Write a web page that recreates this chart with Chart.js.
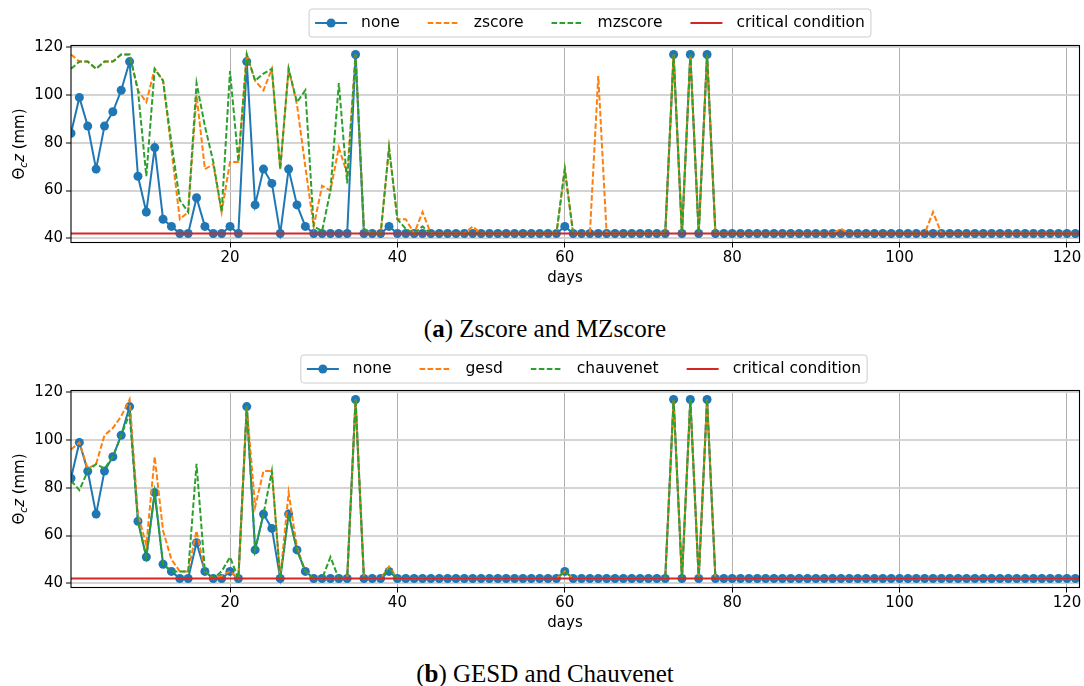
<!DOCTYPE html>
<html><head><meta charset="utf-8">
<script src="https://cdn.jsdelivr.net/npm/chart.js@4"></script>
<style>
html,body{margin:0;padding:0;background:#fff;width:1084px;height:686px;overflow:hidden}
.wrap{position:absolute;left:0;width:1084px;height:295px}
canvas{display:block}
.cap{position:absolute;left:0;width:1090px;text-align:center;font-family:'Liberation Serif','DejaVu Serif',serif;font-size:25px;line-height:25px;color:#000;white-space:nowrap}
</style></head><body>
<div class="wrap" style="top:0px"><canvas id="c1" width="1084" height="295"></canvas></div>
<div class="cap" style="top:316px">(<b>a</b>) Zscore and MZscore</div>
<div class="wrap" style="top:345px"><canvas id="c2" width="1084" height="295"></canvas></div>
<div class="cap" style="top:661px">(<b>b</b>) GESD and Chauvenet</div>
<script>
// ---- data ----
const days = Array.from({length: 121}, (_, i) => i + 1);
const xTicks = [20, 40, 60, 80, 100, 120];
const yTicks = [40, 60, 80, 100, 120];
const critical = 42;
const xMin = 1, xMax = 121.5;
const yMin = 38.25, yMax = 120.75;

const namesA = ['none', 'zscore', 'mzscore', 'critical condition'];
const namesB = ['none', 'gesd', 'chauvenet', 'critical condition'];

const none = [
  84,99,87,69,87,93,102,114,66,51,78,48,45,42,42,57,45,42,42,45,
  42,114,54,69,63,42,69,54,45,42,42,42,42,42,117,42,42,42,45,42,
  42,42,42,42,42,42,42,42,42,42,42,42,42,42,42,42,42,42,42,45,
  42,42,42,42,42,42,42,42,42,42,42,42,117,42,117,42,117,42,42,42,
  42,42,42,42,42,42,42,42,42,42,42,42,42,42,42,42,42,42,42,42,
  42,42,42,42,42,42,42,42,42,42,42,42,42,42,42,42,42,42,42,42,42
];
const zscore = [
  117,114,114,111,114,114,117,117,102,97,111,106,77,48,51,100,69,71,51,72,
  72,117,106,102,111,69,111,96,70,45,62,60,78,67,117,44,42,42,78,48,
  48,42,51,42,42,42,42,42,45,42,42,42,42,42,42,42,42,42,42,69,
  42,42,42,108,42,42,42,42,42,42,42,42,117,42,117,42,117,42,42,42,
  42,42,42,42,42,42,42,42,42,42,42,42,44,42,42,42,42,42,42,42,
  42,42,42,51,42,42,42,42,42,42,42,42,42,42,42,42,42,42,42,42,42
];
const mzscore = [
  111,114,114,111,114,114,117,117,102,66,111,106,80,56,51,105,87,72,51,110,
  72,117,106,109,111,69,111,97,102,45,43,60,105,63,117,44,42,42,78,48,
  44,42,45,42,42,42,42,42,42,42,42,42,42,42,42,42,42,42,42,69,
  42,42,42,42,42,42,42,42,42,42,42,42,117,42,117,42,117,42,42,42,
  42,42,42,42,42,42,42,42,42,42,42,42,42,42,42,42,42,42,42,42,
  42,42,42,42,42,42,42,42,42,42,42,42,42,42,42,42,42,42,42,42,42
];
const gesd = [
  96,99,88,90,102,105,110,117,69,56,93,62,50,45,45,62,45,42,43,45,
  42,114,72,87,87,42,78,55,45,42,42,42,42,42,117,42,42,42,47,42,
  42,42,42,42,42,42,42,42,42,42,42,42,42,42,42,42,42,42,42,45,
  42,42,42,42,42,42,42,42,42,42,42,42,117,42,117,42,117,42,42,42,
  42,42,42,42,42,42,42,42,42,42,42,42,42,42,42,42,42,42,42,42,
  42,42,42,42,42,42,42,42,42,42,42,42,42,42,42,42,42,42,42,42,42
];
const chauvenet = [
  83,79,87,90,88,93,102,111,66,51,78,48,45,45,45,90,45,42,45,51,
  42,114,54,69,87,42,69,54,45,42,42,51,42,42,117,42,42,42,46,42,
  42,42,42,42,42,42,42,42,42,42,42,42,42,42,42,42,42,42,42,45,
  42,42,42,42,42,42,42,42,42,42,42,42,117,42,117,42,117,42,42,42,
  42,42,42,42,42,42,42,42,42,42,42,42,42,42,42,42,42,42,42,42,
  42,42,42,42,42,42,42,42,42,42,42,42,42,42,42,42,42,42,42,42,42
];

// ---- styles ----
const FONT = "'DejaVu Sans', 'Liberation Sans', sans-serif";
const C_BLUE = '#1f77b4', C_ORANGE = '#ff7f0e', C_GREEN = '#2ca02c', C_RED = '#d62728';
const DASH = [5.6, 2.4];

function pts(arr) { return arr.map((v, i) => ({x: days[i], y: v})); }

function decorPlugin(legendNames, legendCx, legendCy) {
  return {
    id: 'decor',
    afterDraw(chart) {
      const ctx = chart.ctx;
      const a = chart.chartArea;
      // frame
      ctx.save();
      ctx.strokeStyle = '#000';
      ctx.lineWidth = 1.1;
      ctx.strokeRect(a.left, a.top, a.right - a.left, a.bottom - a.top);
      ctx.restore();

      // x title
      ctx.save();
      ctx.font = '15px ' + FONT;
      ctx.fillStyle = '#000';
      ctx.textAlign = 'center';
      ctx.textBaseline = 'middle';
      ctx.fillText('days', 565, a.bottom + 36);
      ctx.restore();

      // y title with subscript
      ctx.save();
      ctx.translate(18, (a.top + a.bottom) / 2);
      ctx.rotate(-Math.PI / 2);
      ctx.fillStyle = '#000';
      ctx.textBaseline = 'alphabetic';
      const parts = [
        {t: 'Θ', f: '15px ' + FONT, dy: 0},
        {t: 'c', f: 'italic 10.5px ' + FONT, dy: 3},
        {t: 'z', f: 'italic 15px ' + FONT, dy: 0},
        {t: ' (mm)', f: '15px ' + FONT, dy: 0}
      ];
      let tw = 0;
      parts.forEach(p => { ctx.font = p.f; p.w = ctx.measureText(p.t).width; tw += p.w; });
      let x = -tw / 2;
      parts.forEach(p => { ctx.font = p.f; ctx.fillText(p.t, x, 5.5 + p.dy); x += p.w; });
      ctx.restore();

      // legend
      ctx.save();
      ctx.font = '15.5px ' + FONT;
      const hl = 32, hp = 14, cs = 28, bp = 6;
      const ws = legendNames.map(n => ctx.measureText(n).width);
      let total = bp * 2 + cs * (legendNames.length - 1);
      ws.forEach(w => total += hl + hp + w);
      const x0 = legendCx - total / 2, h = 28;
      ctx.beginPath();
      ctx.roundRect(x0, legendCy - h / 2, total, h, 3);
      ctx.fillStyle = 'rgba(255,255,255,0.8)';
      ctx.fill();
      ctx.strokeStyle = '#cccccc';
      ctx.lineWidth = 1;
      ctx.stroke();
      const ds = chart.data.datasets;
      let cx = x0 + bp;
      [0, 1, 2, 3].forEach((di, k) => {
        const d = ds[di];
        ctx.save();
        ctx.strokeStyle = d.borderColor;
        ctx.lineWidth = 2;
        ctx.setLineDash(d.borderDash || []);
        ctx.beginPath();
        ctx.moveTo(cx, legendCy);
        ctx.lineTo(cx + hl, legendCy);
        ctx.stroke();
        ctx.setLineDash([]);
        if (d.pointRadius > 0) {
          ctx.beginPath();
          ctx.arc(cx + hl / 2, legendCy, d.pointRadius, 0, Math.PI * 2);
          ctx.fillStyle = d.borderColor;
          ctx.fill();
        }
        ctx.restore();
        ctx.fillStyle = '#000';
        ctx.textBaseline = 'middle';
        ctx.textAlign = 'left';
        ctx.fillText(legendNames[k], cx + hl + hp, legendCy);
        cx += hl + hp + ws[k] + cs;
      });
      ctx.restore();
    }
  };
}

function makeChart(id, names, s1, s2, legendCx, legendCy) {
  const ctx = document.getElementById(id);
  return new Chart(ctx, {
    type: 'line',
    data: {
      datasets: [
        {label: names[0], data: pts(none), borderColor: C_BLUE, backgroundColor: C_BLUE,
         borderWidth: 2, pointRadius: 4.5, pointBorderWidth: 0, pointBackgroundColor: C_BLUE, order: 4},
        {label: names[1], data: pts(s1), borderColor: C_ORANGE, borderWidth: 2, borderDash: DASH,
         pointRadius: 0, order: 3},
        {label: names[2], data: pts(s2), borderColor: C_GREEN, borderWidth: 2, borderDash: DASH,
         pointRadius: 0, order: 2},
        {label: names[3], data: [{x: xMin, y: critical}, {x: xMax, y: critical}], borderColor: C_RED,
         borderWidth: 2, pointRadius: 0, order: 1}
      ]
    },
    options: {
      responsive: false,
      animation: false,
      devicePixelRatio: 1,
      layout: {padding: {top: 45.5, right: 4, bottom: 0, left: 0}},
      plugins: {legend: {display: false}, tooltip: {enabled: false}},
      elements: {line: {tension: 0}},
      scales: {
        x: {
          type: 'linear', min: xMin, max: xMax,
          afterBuildTicks: ax => { ax.ticks = xTicks.map(v => ({value: v})); },
          afterFit: ax => { ax.height = 52.5; },
          grid: {color: '#b0b0b0', lineWidth: 1, drawTicks: true, tickLength: 5, tickColor: '#000', tickWidth: 1},
          border: {display: false},
          ticks: {font: {family: FONT, size: 15}, color: '#000', padding: 2, maxRotation: 0, autoSkip: false}
        },
        y: {
          min: yMin, max: yMax,
          afterBuildTicks: ax => { ax.ticks = yTicks.map(v => ({value: v})); },
          afterFit: ax => { ax.width = 71; },
          grid: {color: '#d4d4d4', lineWidth: 2, drawTicks: true, tickLength: 5, tickColor: '#000', tickWidth: 1},
          border: {display: false},
          ticks: {font: {family: FONT, size: 15}, color: '#000', padding: 3, autoSkip: false}
        }
      }
    },
    plugins: [decorPlugin(names, legendCx, legendCy)]
  });
}

makeChart('c1', namesA, zscore, mzscore, 590, 23);
makeChart('c2', namesB, gesd, chauvenet, 584, 24);
</script>
</body></html>
